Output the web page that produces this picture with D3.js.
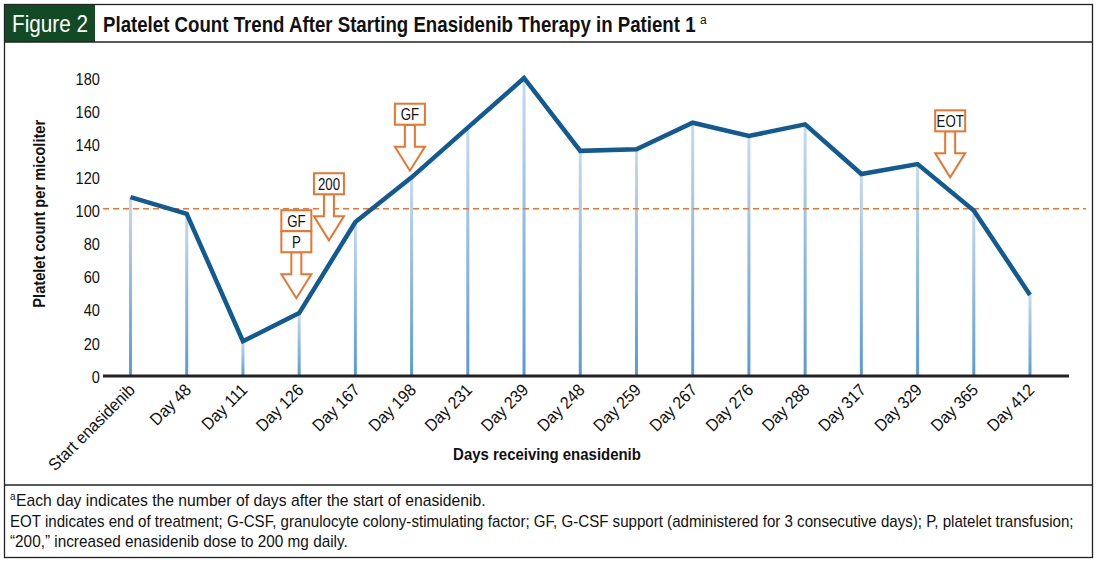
<!DOCTYPE html>
<html>
<head>
<meta charset="utf-8">
<script src="https://cdn.jsdelivr.net/npm/d3@7"></script>
<style>
  body { margin: 0; background: #fff; }
  svg { display: block; font-family: "Liberation Sans", Arial, sans-serif; }
</style>
</head>
<body>
<svg id="chart" width="1100" height="563"></svg>
<script>
// platelet counts per visit
var days = ["Start enasidenib", "Day 48", "Day 111", "Day 126", "Day 167", "Day 198", "Day 231",
            "Day 239", "Day 248", "Day 259", "Day 267", "Day 276", "Day 288", "Day 317",
            "Day 329", "Day 365", "Day 412"];
var platelets = [108, 98, 21, 38, 93, 120, 150, 180, 136, 137, 153, 145, 152, 122, 128, 100, 49];
var yTicks = [0, 20, 40, 60, 80, 100, 120, 140, 160, 180];
var threshold = 101;

// event markers: which visit they sit next to, fractional shift toward the next one, arrow tip value
var markerLabels = [["GF", "P"], ["200"], ["GF"], ["EOT"]];
var markerDay = ["Day 126", "Day 126", "Day 198", "Day 329"];
var markerShift = [-0.05, 0.53, -0.03, 0.58];
var markerTip = [47, 82, 124, 120];

var titleText = "Platelet Count Trend After Starting Enasidenib Therapy in Patient 1";
var footnotes = [
  "Each day indicates the number of days after the start of enasidenib.",
  "EOT indicates end of treatment; G-CSF, granulocyte colony-stimulating factor; GF, G-CSF support (administered for 3 consecutive days); P, platelet transfusion;",
  "\u201C200,\u201D increased enasidenib dose to 200 mg daily."
];
var footnoteWidths = [470, 1064, 338];

var svg = d3.select("#chart");
var orange = "#e8762f", navy = "#115a92";

var x = d3.scalePoint().domain(days).range([130.5, 1030]);
var y = d3.scaleLinear().domain([0, 180]).range([376, 78]);
var step = x.step();

/*
 * squeeze text horizontally (by a factor, or to a width) to mimic the condensed face
 */
function squeeze(node, k) {
    var sel = d3.select(node),
        tx = +sel.attr("x") || 0, ty = +sel.attr("y") || 0,
        base = sel.attr("transform") || "";
    sel.attr("x", 0).attr("y", 0)
       .attr("transform", base + " translate(" + tx + "," + ty + ") scale(" + k + ",1)");
}
function condense(sel, f) {
    sel.each(function() { squeeze(this, f); });
}
function fitTo(sel, w) {
    sel.each(function() { squeeze(this, w / this.getComputedTextLength()); });
}

/*
 * frame, title bar and footnote box
 */
svg.append("rect").attr("x", 4.5).attr("y", 4.5).attr("width", 1088).attr("height", 553)
   .attr("fill", "none").attr("stroke", "#222").attr("stroke-width", 1.3);
svg.append("rect").attr("x", 5).attr("y", 5).attr("width", 90).attr("height", 37).attr("fill", "#124a25");
svg.append("line").attr("x1", 4.5).attr("x2", 1092.5).attr("y1", 42).attr("y2", 42)
   .attr("stroke", "#222").attr("stroke-width", 1.3);
svg.append("line").attr("x1", 4.5).attr("x2", 1092.5).attr("y1", 485).attr("y2", 485)
   .attr("stroke", "#222").attr("stroke-width", 1.3);

fitTo(svg.append("text").attr("x", 12).attr("y", 32).attr("fill", "#fff")
   .attr("font-size", 23).text("Figure 2"), 76);
fitTo(svg.append("text").attr("x", 103).attr("y", 32).attr("fill", "#111")
   .attr("font-size", 22).attr("font-weight", "bold").text(titleText), 593);
svg.append("text").attr("x", 700).attr("y", 24).attr("font-size", 12).attr("fill", "#111").text("a");

svg.append("text").attr("x", 10).attr("y", 500).attr("font-size", 10).attr("fill", "#111").text("a");
footnotes.forEach(function(t, i) {
    var tx = svg.append("text").attr("x", i === 0 ? 16 : 10).attr("y", 506 + i * 20.5)
       .attr("font-size", 16).attr("fill", "#111").text(t);
    fitTo(tx, footnoteWidths[i]);
});

/*
 * drop lines from each point to the axis
 */
var grad = svg.append("defs").append("linearGradient").attr("id", "drop")
   .attr("x1", 0).attr("x2", 0).attr("y1", 0).attr("y2", 1);
grad.append("stop").attr("offset", "0%").attr("stop-color", "#c6dbef");
grad.append("stop").attr("offset", "100%").attr("stop-color", "#5a9ad4");

svg.append("g").selectAll("rect").data(platelets).join("rect")
   .attr("x", function(d, i) { return x(days[i]) - 1.5; })
   .attr("y", function(d) { return y(d); })
   .attr("width", 3)
   .attr("height", function(d) { return y(0) - y(d); })
   .attr("fill", "url(#drop)");

// reference line
svg.append("line").attr("x1", 103).attr("x2", 1086)
   .attr("y1", y(threshold)).attr("y2", y(threshold))
   .attr("stroke", orange).attr("stroke-width", 1.6).attr("stroke-dasharray", "6,4");

/*
 * axes
 */
var yAxis = svg.append("g").attr("transform", "translate(103,0)")
   .call(d3.axisLeft(y).tickValues(yTicks).tickSize(0).tickPadding(3));
yAxis.select(".domain").remove();
yAxis.selectAll("text").attr("font-size", 17).attr("fill", "#111")
   .attr("font-family", null).attr("dy", "0.36em");
condense(yAxis.selectAll("text"), 0.86);

svg.append("line").attr("x1", 103).attr("x2", 1069).attr("y1", y(0)).attr("y2", y(0))
   .attr("stroke", "#222").attr("stroke-width", 3);

var xAxis = svg.append("g").attr("transform", "translate(0," + (y(0) + 2) + ")")
   .call(d3.axisBottom(x).tickSize(0).tickPadding(0));
xAxis.select(".domain").remove();
xAxis.selectAll("text").attr("font-size", 17).attr("fill", "#111")
   .attr("font-family", null).attr("text-anchor", "end").attr("dy", 0)
   .attr("transform", "translate(5,13) rotate(-45)");
condense(xAxis.selectAll("text"), 0.93);

fitTo(svg.append("text").attr("x", 547).attr("y", 460).attr("text-anchor", "middle")
   .attr("font-size", 17).attr("font-weight", "bold").attr("fill", "#111")
   .text("Days receiving enasidenib"), 188);
fitTo(svg.append("text").attr("transform", "translate(45," + y(98) + ") rotate(-90)")
   .attr("text-anchor", "middle").attr("font-size", 16).attr("font-weight", "bold")
   .attr("fill", "#111").text("Platelet count per micoliter"), 188);

/*
 * trend line
 */
svg.append("path").datum(platelets)
   .attr("d", d3.line().x(function(d, i) { return x(days[i]); }).y(function(d) { return y(d); }))
   .attr("fill", "none").attr("stroke", navy).attr("stroke-width", 4.5)
   .attr("stroke-linejoin", "miter");

/*
 * event markers: stacked label boxes over a hollow down arrow
 */
function drawMarker(labels, cx, tipY) {
    var g = svg.append("g"),
        boxW = 30, boxH = 21, shaftW = 10, headW = 30, headH = 24, shaftH = 22,
        headTop = tipY - headH,
        shaftTop = headTop - shaftH,
        boxTop = shaftTop - boxH * labels.length;
    var pts = [
        [cx - shaftW / 2, shaftTop], [cx + shaftW / 2, shaftTop], [cx + shaftW / 2, headTop],
        [cx + headW / 2, headTop], [cx, tipY], [cx - headW / 2, headTop], [cx - shaftW / 2, headTop]
    ];
    g.append("polygon").attr("points", pts.map(function(p) { return p.join(","); }).join(" "))
     .attr("fill", "#fff").attr("stroke", orange).attr("stroke-width", 2);
    labels.forEach(function(t, i) {
        g.append("rect").attr("x", cx - boxW / 2).attr("y", boxTop + i * boxH)
         .attr("width", boxW).attr("height", boxH)
         .attr("fill", "#fff").attr("stroke", orange).attr("stroke-width", 2);
        condense(g.append("text").attr("x", cx).attr("y", boxTop + i * boxH + 16.5)
         .attr("text-anchor", "middle").attr("font-size", 17).attr("fill", "#111").text(t), 0.78);
    });
}

markerLabels.forEach(function(labels, i) {
    drawMarker(labels, x(markerDay[i]) + markerShift[i] * step, y(markerTip[i]));
});
</script>
</body>
</html>
